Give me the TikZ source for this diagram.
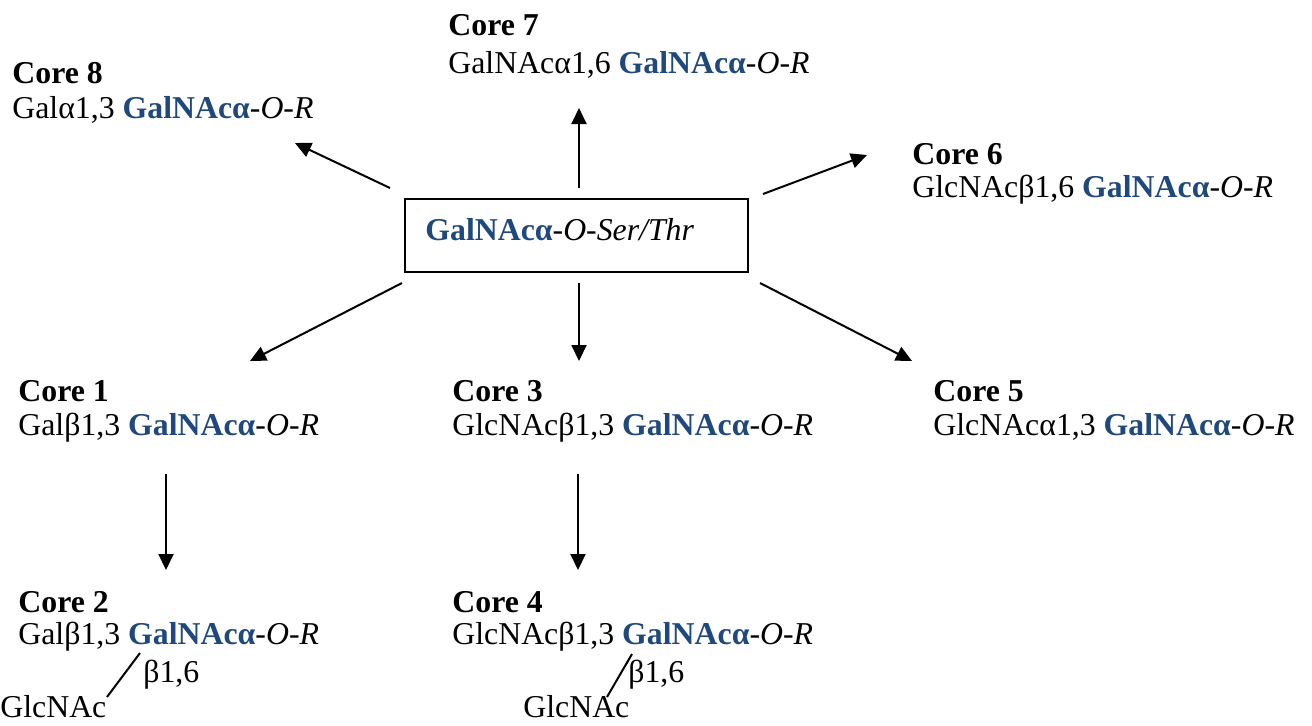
\documentclass[tikz,border=0pt]{standalone}
\usepackage{fontspec}
\setmainfont{Liberation Serif}
\usetikzlibrary{arrows.meta}
\definecolor{glyco}{HTML}{1F497D}
\newcommand\galnac{\textcolor{glyco}{\textbf{GalNAcα}}}
\newcommand\galnacR{\galnac\textit{-O-R}}
\begin{document}
\begin{tikzpicture}[x=0.5pt,y=-0.5pt,
  txt/.style={anchor=base west,inner sep=0pt,font=\fontsize{15.9}{18}\selectfont},
  ttl/.style={txt,font=\fontsize{15.9}{18}\selectfont\bfseries},
  arr/.style={-{Triangle[length=8pt,width=7.5pt]},line width=1pt},
  bond/.style={line width=1pt}]
\useasboundingbox (0,0) rectangle (1312,725);

% central box
\node[draw,line width=1pt,minimum width=171.5pt,minimum height=36.5pt,
      inner sep=0pt,anchor=north west] (box) at (404,198) {};
\node[txt] (boxtext) at (425,240) {\galnac\textit{-O-Ser/Thr}};

% Core 8
\node[ttl] (c8t) at (12,83) {Core 8};
\node[txt] (c8s) at (12,118) {Galα1,3 \galnacR};
% Core 7
\node[ttl] (c7t) at (448,35) {Core 7};
\node[txt] (c7s) at (448,73) {GalNAcα1,6 \galnacR};
% Core 6
\node[ttl] (c6t) at (912,164) {Core 6};
\node[txt] (c6s) at (912,197) {GlcNAcβ1,6 \galnacR};
% Core 1
\node[ttl] (c1t) at (18,401) {Core 1};
\node[txt] (c1s) at (18,435) {Galβ1,3 \galnacR};
% Core 3
\node[ttl] (c3t) at (452,401) {Core 3};
\node[txt] (c3s) at (452,435) {GlcNAcβ1,3 \galnacR};
% Core 5
\node[ttl] (c5t) at (933,401) {Core 5};
\node[txt] (c5s) at (933,435) {GlcNAcα1,3 \galnacR};
% Core 2
\node[ttl] (c2t) at (18,612) {Core 2};
\node[txt] (c2s) at (18,644) {Galβ1,3 \galnacR};
\node[txt] (c2l) at (143,682) {β1,6};
\node[txt] (c2g) at (0,717) {GlcNAc};
% Core 4
\node[ttl] (c4t) at (452,612) {Core 4};
\node[txt] (c4s) at (452,644) {GlcNAcβ1,3 \galnacR};
\node[txt] (c4l) at (628,682) {β1,6};
\node[txt] (c4g) at (523,717) {GlcNAc};

% arrow end points
\coordinate (a8) at (390,188);  \coordinate (e8) at (295,143);
\coordinate (a7) at (579,188);  \coordinate (e7) at (579,108);
\coordinate (a6) at (763,194);  \coordinate (e6) at (867,155);
\coordinate (a1) at (402,283);  \coordinate (e1) at (250,361);
\coordinate (a3) at (579,283);  \coordinate (e3) at (579,361);
\coordinate (a5) at (760,283);  \coordinate (e5) at (912,361);
\coordinate (a2) at (166,474);  \coordinate (e2) at (166,570);
\coordinate (a4) at (578,474);  \coordinate (e4) at (578,570);

\foreach \k in {8,7,6,1,3,5,2,4} \draw[arr] (a\k) -- (e\k);

% beta1,6 branch bonds
\coordinate (b2a) at (140,653); \coordinate (b2b) at (107,697);
\coordinate (b4a) at (632,654); \coordinate (b4b) at (607,697);
\draw[bond] (b2a) -- (b2b);
\draw[bond] (b4a) -- (b4b);
\end{tikzpicture}
\end{document}
